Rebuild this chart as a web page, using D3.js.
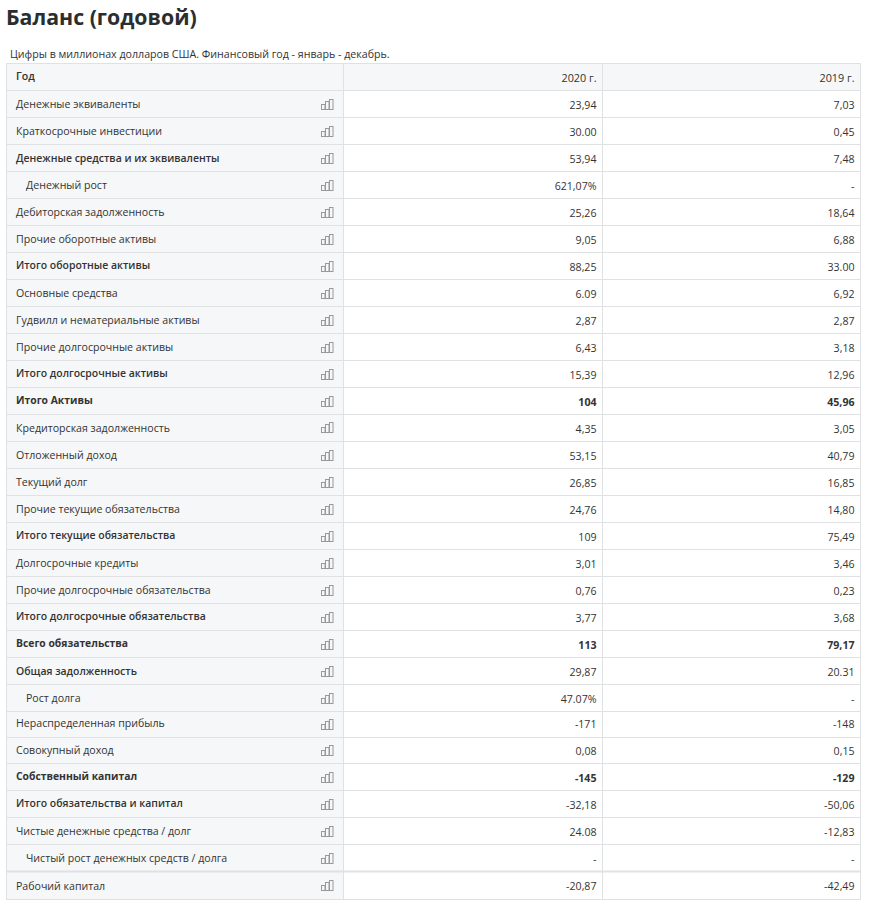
<!DOCTYPE html>
<html>
<head>
<meta charset="utf-8">
<script src="https://d3js.org/d3.v7.min.js"></script>
<style>
body { margin: 0; background: #fff; }
svg { display: block; }
text { font-family: "Open Sans", "Noto Sans", sans-serif; }
</style>
</head>
<body>
<div id="chart"></div>
<script>
const labels = ["Денежные эквиваленты", "Краткосрочные инвестиции", "Денежные средства и их эквиваленты", "Денежный рост",
  "Дебиторская задолженность", "Прочие оборотные активы", "Итого оборотные активы", "Основные средства",
  "Гудвилл и нематериальные активы", "Прочие долгосрочные активы", "Итого долгосрочные активы", "Итого Активы",
  "Кредиторская задолженность", "Отложенный доход", "Текущий долг", "Прочие текущие обязательства",
  "Итого текущие обязательства", "Долгосрочные кредиты", "Прочие долгосрочные обязательства", "Итого долгосрочные обязательства",
  "Всего обязательства", "Общая задолженность", "Рост долга", "Нераспределенная прибыль", "Совокупный доход",
  "Собственный капитал", "Итого обязательства и капитал", "Чистые денежные средства / долг",
  "Чистый рост денежных средств / долга", "Рабочий капитал"];
const values2020 = ["23,94", "30.00", "53,94", "621,07%", "25,26", "9,05", "88,25", "6.09", "2,87", "6,43", "15,39", "104",
  "4,35", "53,15", "26,85", "24,76", "109", "3,01", "0,76", "3,77", "113", "29,87", "47.07%", "-171", "0,08", "-145",
  "-32,18", "24.08", "-", "-20,87"];
const values2019 = ["7,03", "0,45", "7,48", "-", "18,64", "6,88", "33.00", "6,92", "2,87", "3,18", "12,96", "45,96",
  "3,05", "40,79", "16,85", "14,80", "75,49", "3,46", "0,23", "3,68", "79,17", "20.31", "-", "-148", "0,15", "-129",
  "-50,06", "-12,83", "-", "-42,49"];
const years = ["2020 г.", "2019 г."];
const semiboldLabels = ["Денежные средства и их эквиваленты", "Итого оборотные активы", "Итого долгосрочные активы",
  "Итого текущие обязательства", "Итого долгосрочные обязательства", "Общая задолженность", "Итого обязательства и капитал"];
const boldRows = ["Итого Активы", "Всего обязательства", "Собственный капитал"];
const indentRows = ["Денежный рост", "Рост долга", "Чистый рост денежных средств / долга"];
// labels that sit a pixel higher or lower in the screenshot
const raisedLabels = ["Итого оборотные активы", "Итого долгосрочные активы", "Итого Активы", "Итого текущие обязательства",
  "Итого долгосрочные обязательства", "Всего обязательства", "Нераспределенная прибыль", "Собственный капитал",
  "Итого обязательства и капитал"];
const loweredLabels = ["Рабочий капитал"];
const iconBars = [5, 8, 10];

const width = 872, height = 913;
const svg = d3.select("#chart").append("svg").attr("width", width).attr("height", height);

// row edges are not quite even in the screenshot, hence the piecewise scale
const rowY = d3.scaleLinear().domain([0, 23, 25, 29, 30]).range([90, 711, 763, 871, 899]);
const left = 6.5, col1 = 343.5, col2 = 602.5, right = 860.5, tableTop = 63.5;
const line = "#dfe1e3", headBg = "#f6f7f8", ink = "#333";

svg.append("text").attr("x", 6).attr("y", 25).attr("font-size", 21.3).attr("font-weight", 700).attr("fill", "#2a2e2e").text("Баланс (годовой)");
svg.append("text").attr("x", 10).attr("y", 58).attr("font-size", 10.65).attr("fill", ink).text("Цифры в миллионах долларов США. Финансовый год - январь - декабрь.");

svg.append("rect").attr("x", left).attr("y", tableTop).attr("width", col1 - left).attr("height", rowY(30) - tableTop).attr("fill", headBg);
svg.append("rect").attr("x", col1).attr("y", tableTop).attr("width", right - col1).attr("height", 27).attr("fill", headBg);

// header
svg.append("text").attr("x", 16).attr("y", 80).attr("font-size", 10.6).attr("font-weight", 600).attr("fill", ink).text("Год");
svg.selectAll(".year").data(years).enter().append("text").attr("class", "year")
  .attr("x", (d, i) => (i ? right - 6 : col2 - 6)).attr("y", 82).attr("text-anchor", "end")
  .attr("font-size", 10.8).attr("fill", ink).text(d => d);

const rows = svg.selectAll(".row").data(labels).enter().append("g").attr("class", "row")
  .attr("transform", (d, i) => `translate(0,${rowY(i)})`);

rows.append("text")
  .attr("x", d => (indentRows.includes(d) ? 26 : 16))
  .attr("y", (d, i) => (rowY(i + 1) - rowY(i)) / 2 + 4 - (raisedLabels.includes(d) ? 1 : 0) + (loweredLabels.includes(d) ? 1 : 0))
  .attr("font-size", d => (boldRows.includes(d) ? 10.35 : semiboldLabels.includes(d) ? 10.45 : 10.6))
  .attr("font-weight", d => (boldRows.includes(d) ? 700 : semiboldLabels.includes(d) ? 600 : 400))
  .attr("fill", ink)
  .text(d => d);

const valueRow = (sel, vals, x) => sel.append("text")
  .attr("x", x).attr("y", (d, i) => (rowY(i + 1) - rowY(i)) / 2 + 5 - (d === "Нераспределенная прибыль" ? 1 : 0))
  .attr("text-anchor", "end").attr("font-size", 10.6)
  .attr("font-weight", d => (boldRows.includes(d) ? 700 : 400))
  .attr("fill", ink)
  .text((d, i) => vals[i]);
valueRow(rows, values2020, col2 - 6);
valueRow(rows, values2019, right - 6);

// little bar-chart icon in each row
const iconX = d3.scaleBand().domain(iconBars).range([320.5, 332.5]).padding(0);
rows.each(function(d, i) {
  const base = Math.round((rowY(i + 1) - rowY(i)) / 2) + 5;
  d3.select(this).selectAll("rect").data(iconBars).enter().append("rect")
    .attr("x", b => Math.round(iconX(b)) + 0.5)
    .attr("y", b => base - b + 0.5)
    .attr("width", iconX.bandwidth() - 0.5)
    .attr("height", b => b)
    .attr("fill", "none").attr("stroke", "#999").attr("stroke-width", 1);
});

// grid lines
const edges = d3.range(0, 31).map(i => Math.round(rowY(i)) + 0.5);
svg.selectAll(".hline").data(edges).enter().append("line").attr("class", "hline")
  .attr("x1", left).attr("x2", right).attr("y1", d => d).attr("y2", d => d)
  .attr("stroke", line).attr("stroke-width", (d, i) => (i === 29 ? 2 : 1));
svg.append("line").attr("x1", left).attr("x2", right).attr("y1", tableTop).attr("y2", tableTop).attr("stroke", line);
svg.selectAll(".vline").data([left, col1, col2, right]).enter().append("line").attr("class", "vline")
  .attr("x1", d => d).attr("x2", d => d).attr("y1", tableTop).attr("y2", rowY(30) + 0.5)
  .attr("stroke", line);
</script>
</body>
</html>
